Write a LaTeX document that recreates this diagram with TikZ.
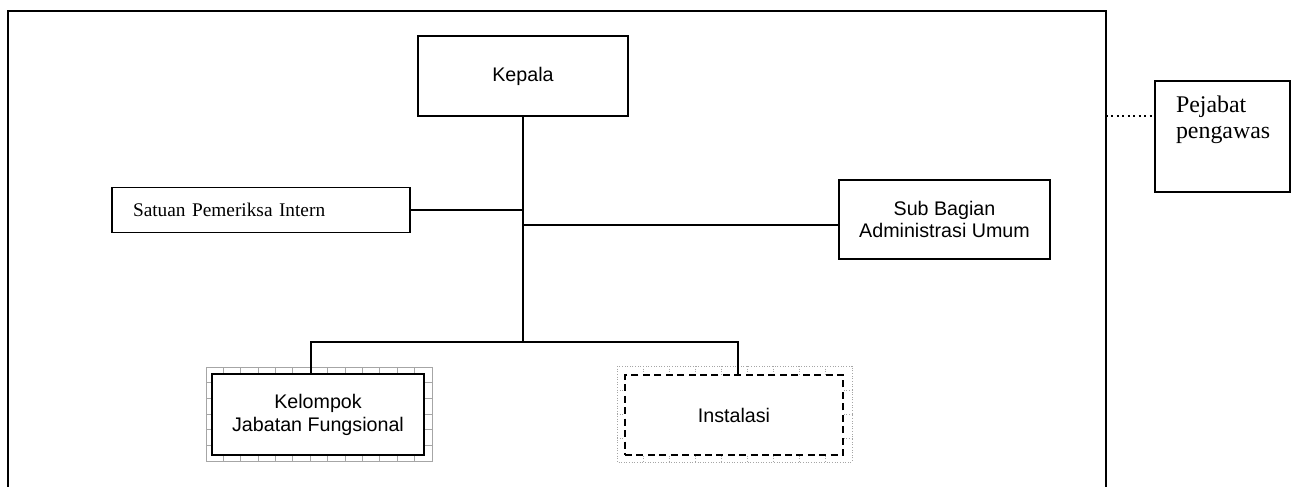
\documentclass[tikz,border=0pt]{standalone}
\usepackage{fontspec}
\setmainfont{Liberation Serif}
\setsansfont{Liberation Sans}
\usetikzlibrary{calc}

\begin{document}
\begin{tikzpicture}[x=0.02cm, y=-0.02cm, line width=1.1pt,
    unit/.style = {draw, fill=white, align=center, inner sep=0pt,
      font=\sffamily\fontsize{11.2}{13}\selectfont},
    serifbox/.style = {draw, fill=white, align=left, inner ysep=0pt,
      font=\rmfamily\fontsize{11}{12}\selectfont},
    gridline/.style = {gray!70, line width=0.5pt},
    dotline/.style = {gray!70, line width=0.5pt, densely dotted}]
  \useasboundingbox (0,0) rectangle (1292,487);

  % outer frame
  \draw[line width=1.2pt] (8,487) -- (8,11) -- (1106,11) -- (1106,487);

  % hatched border round the functional group
  \draw[gridline] (206,367) rectangle (432,461);
  \foreach \i in {1,...,12}
    \draw[gridline] ({206+\i*17.38},367) -- ++(0,94);
  \foreach \j in {1,...,5}
    \draw[gridline] (206,{367+\j*15.67}) -- ++(226,0);

  % dotted border round the installation
  \draw[dotline] (617,366) rectangle (852,462);
  \foreach \i in {1,...,8}
    \draw[dotline] ({617+\i*26.1},366) -- ++(0,96);
  \foreach \j in {1,...,3}
    \draw[dotline] (617,{366+\j*24}) -- ++(235,0);

  \node[unit, minimum width=4.2cm, minimum height=1.6cm] (kepala) at (523,76) {Kepala};
  \node[serifbox, text width=5.12cm, inner xsep=0.42cm, minimum height=0.9cm] (spi) at (261,210) {Satuan Pemeriksa Intern};
  \node[unit, minimum width=4.22cm, minimum height=1.58cm] (subbag) at (944.5,219.5) {Sub Bagian\\Administrasi Umum};
  \node[unit, line width=1.5pt, minimum width=4.24cm, minimum height=1.62cm] (kjf) at (318,414.5) {Kelompok\\Jabatan Fungsional};
  \node[unit, line width=1.6pt, dash pattern=on 4pt off 2.5pt, minimum width=4.36cm, minimum height=1.6cm] (instalasi) at (734,415) {Instalasi};
  \node[draw, align=left, inner xsep=0.42cm, inner ysep=0.3cm,
    font=\rmfamily\fontsize{13.6}{14.5}\selectfont] (pengawas) at (1222.5,136.5)
    {\parbox[c][1.62cm][t]{1.86cm}{Pejabat\\pengawas}};

  \coordinate (bus) at (523,342);
  \coordinate (tap) at (1106,116);

  \draw (kepala.south) -- (bus);
  \draw (spi.east) -- (spi.east -| kepala.south);
  \draw (subbag.west |- 0,225) -- (kepala.south |- 0,225);
  \draw (bus) -| ($(kjf.north)+(-7,0)$);
  \draw (bus) -| ($(instalasi.north)+(4,0)$);
  \draw[dotted] (tap) -- (tap -| pengawas.west);
\end{tikzpicture}
\end{document}
